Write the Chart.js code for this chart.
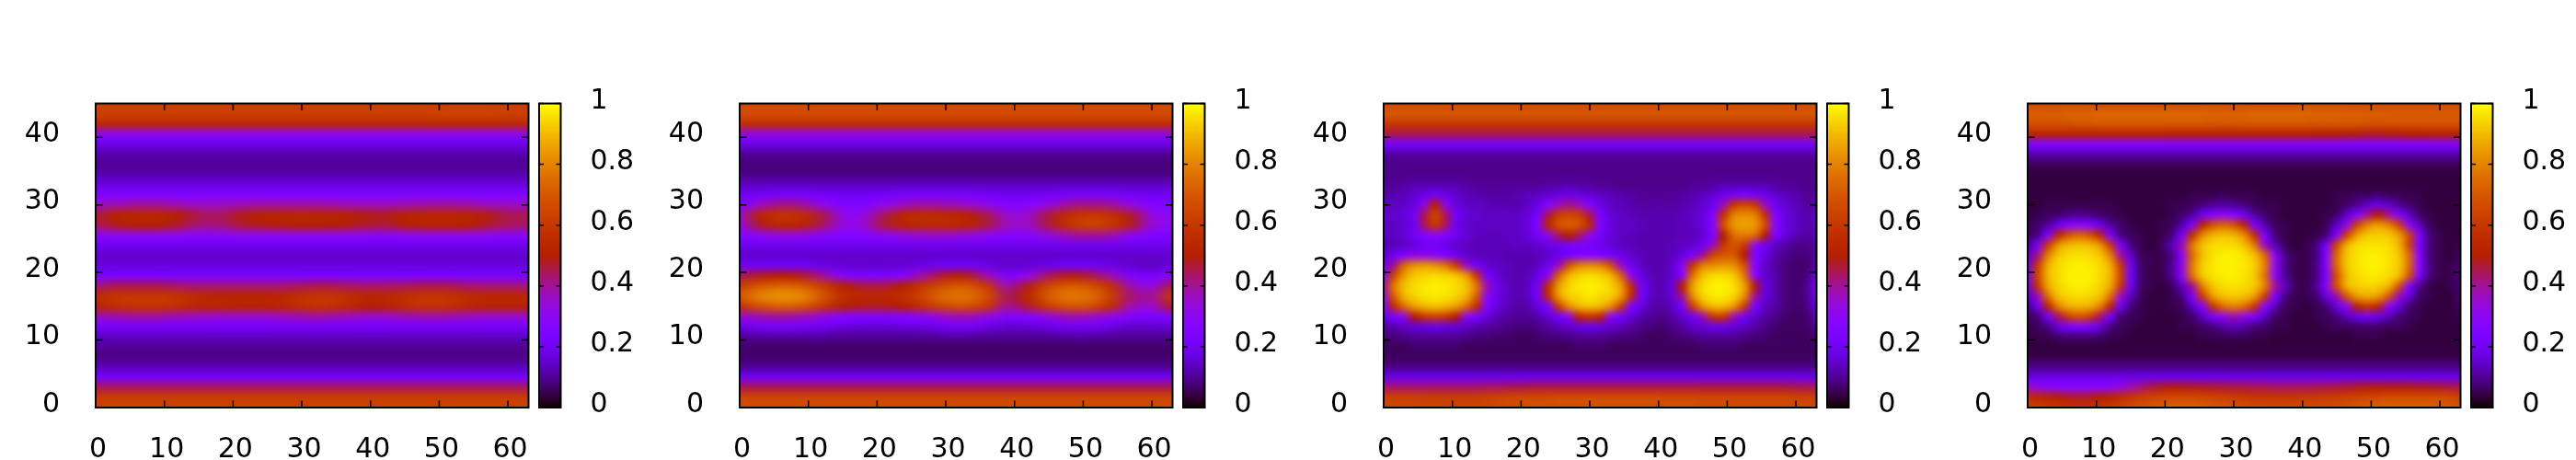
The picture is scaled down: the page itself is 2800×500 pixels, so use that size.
<!DOCTYPE html>
<html>
<head>
<meta charset="utf-8">
<title>Heat maps</title>
<script src="https://cdn.jsdelivr.net/npm/chart.js@4"></script>
<style>
  html, body { margin: 0; padding: 0; background: #fff; }
  #wrap { position: relative; width: 2800px; height: 500px; }
  canvas { position: absolute; top: 0; }
</style>
</head>
<body>
<div id="wrap"></div>
<script>
const xTicks = [0, 10, 20, 30, 40, 50, 60];
const yTicks = [0, 10, 20, 30, 40];
const cbTicks = [0, 0.2, 0.4, 0.6, 0.8, 1];

// sampled positions of the cells
const xCells = [0, 3, 6, 9, 12, 15, 18, 21, 24, 27, 30, 33, 36, 39, 42, 45, 48, 51, 54, 57, 60, 63];
const xCellsFine = [0, 1.5, 3, 4.5, 6, 7.5, 9, 10.5, 12, 13.5, 15, 16.5, 18, 19.5, 21, 22.5, 24, 25.5, 27, 28.5, 30, 31.5, 33, 34.5, 36, 37.5, 39, 40.5, 42, 43.5, 45, 46.5, 48, 49.5, 51, 52.5, 54, 55.5, 57, 58.5, 60, 61.5, 63];
const yCells = [0, 1.5, 3, 4.5, 6, 7.5, 9, 10.5, 12, 13.5, 15, 16.5, 18, 19.5, 21, 22.5, 24, 25.5, 27, 28.5, 30, 31.5, 33, 34.5, 36, 37.5, 39, 40.5, 42, 43.5, 45];

// values, in percent. one row per yCells entry, bottom row first
const panel1 = [
[63,63,63,63,63,63,63,63,63,63,63,63,63,63,63,63,63,63,63,63,63,63],
[62,62,62,62,62,62,62,62,62,62,62,62,62,62,62,62,62,62,62,62,62,62],
[44,44,44,44,44,44,44,44,44,44,44,44,44,44,44,44,44,44,44,44,44,44],
[21,21,21,21,21,21,21,21,21,21,21,21,21,21,21,21,21,21,21,21,21,21],
[13,13,13,13,13,13,13,13,13,13,13,13,13,13,13,13,13,13,13,13,13,13],
[9,9,9,9,9,9,9,9,9,9,9,9,9,9,9,9,9,9,9,9,9,9],
[10,10,10,10,10,10,10,10,10,10,10,10,10,10,10,10,10,10,10,10,10,10],
[14,14,14,14,14,14,14,14,14,14,14,14,14,14,14,14,14,14,14,14,14,14],
[22,22,22,22,22,22,22,22,22,22,22,22,22,22,22,22,22,22,22,22,22,22],
[36,38,39,39,37,36,35,35,35,36,38,39,37,35,35,37,38,38,36,35,35,35],
[52,56,58,58,56,52,52,51,51,52,56,58,55,50,50,55,58,57,53,51,51,51],
[55,59,60,60,58,54,52,52,52,53,57,59,57,53,53,56,59,58,55,53,53,53],
[42,45,45,45,43,42,42,42,42,42,44,45,44,43,43,44,45,45,43,42,42,42],
[23,23,23,23,23,23,23,23,23,23,23,23,23,23,23,23,23,23,23,23,23,23],
[17,17,17,17,17,17,17,17,17,17,17,17,17,17,17,17,17,17,17,17,17,17],
[15,15,15,15,15,15,15,15,15,15,15,15,15,15,15,15,15,15,15,15,15,15],
[19,19,19,19,19,19,19,19,19,19,19,19,19,19,19,19,19,19,19,19,19,19],
[29,30,30,30,30,29,29,30,30,30,30,30,30,30,29,30,31,31,31,30,29,29],
[44,48,50,50,47,42,42,46,48,49,50,50,49,47,46,49,51,51,50,47,44,43],
[46,51,53,53,50,45,44,48,51,52,53,52,51,49,48,51,53,53,52,49,45,45],
[36,38,40,40,38,36,36,38,39,39,39,39,38,37,37,38,39,40,39,37,36,36],
[25,25,25,25,25,25,25,25,25,25,25,25,25,25,25,25,25,25,25,25,25,25],
[17,17,17,17,17,17,17,17,17,17,17,17,17,17,17,17,17,17,17,17,17,17],
[12,12,12,12,12,12,12,12,12,12,12,12,12,12,12,12,12,12,12,12,12,12],
[10,10,10,10,10,10,10,10,10,10,10,10,10,10,10,10,10,10,10,10,10,10],
[12,12,12,12,12,12,12,12,12,12,12,12,12,12,12,12,12,12,12,12,12,12],
[18,18,18,18,18,18,18,18,18,18,18,18,18,18,18,18,18,18,18,18,18,18],
[31,31,31,31,31,31,31,31,31,31,31,31,31,31,31,31,31,31,31,31,31,31],
[54,54,54,54,54,54,54,54,54,54,54,54,54,54,54,54,54,54,54,54,54,54],
[63,63,63,63,63,63,63,63,63,63,63,63,63,63,63,63,63,64,64,64,63,63],
[62,62,62,62,62,62,62,62,62,62,62,62,62,62,62,62,62,62,62,62,62,62]
];

const panel2 = [
[66,66,66,66,66,66,66,66,66,66,66,66,66,66,66,66,66,66,66,66,66,66],
[65,65,65,65,65,65,65,65,65,65,65,65,65,65,65,65,65,65,65,65,65,65],
[45,45,45,45,45,45,45,45,45,45,45,45,45,45,45,45,45,45,45,45,45,45],
[20,20,20,20,20,20,20,20,20,20,20,20,20,20,20,20,20,20,20,20,20,20],
[10,10,10,10,10,10,10,10,10,10,10,10,10,10,10,10,10,10,10,10,10,10],
[7,7,7,7,7,7,7,7,7,7,7,7,7,7,7,7,7,7,7,7,7,7],
[7,7,7,7,7,7,7,7,7,7,7,7,7,7,7,7,7,7,7,7,7,7],
[10,11,11,11,11,10,10,10,10,10,11,11,10,10,10,10,11,11,10,10,10,10],
[18,21,22,21,19,17,16,16,17,18,20,21,18,15,16,18,20,20,18,15,15,16],
[34,38,40,38,33,27,26,26,27,30,36,38,33,26,27,33,38,37,32,26,24,26],
[58,68,72,70,60,50,48,48,50,58,66,68,60,40,47,62,69,67,56,38,35,48],
[70,80,83,81,70,56,53,53,56,66,75,76,67,45,54,71,78,75,63,43,40,60],
[62,70,73,71,62,50,46,46,50,60,68,70,60,38,48,65,71,68,57,38,32,46],
[44,48,50,48,40,28,24,24,28,40,48,49,38,24,32,44,49,46,38,24,22,27],
[19,20,20,20,18,16,15,15,16,18,20,20,18,15,16,18,20,20,18,15,14,17],
[15,15,15,15,15,15,15,15,15,15,15,15,15,15,15,15,15,15,15,15,15,15],
[19,19,19,19,19,19,19,19,19,19,19,19,19,19,19,19,19,19,19,19,19,19],
[26,30,33,32,29,25,26,30,33,35,35,33,30,27,28,33,38,40,38,30,24,24],
[33,47,53,52,44,33,34,46,52,54,54,52,46,37,36,46,58,64,60,48,34,30],
[36,52,58,56,46,32,32,44,53,55,54,51,45,35,35,46,56,60,57,47,33,30],
[26,36,42,40,32,25,25,31,37,39,38,36,32,26,27,33,40,42,40,33,26,24],
[20,21,22,22,21,20,20,21,22,22,22,22,21,20,20,21,22,23,22,21,20,20],
[14,14,14,14,14,14,14,14,14,14,14,14,14,14,14,14,14,14,14,14,14,14],
[9,9,9,9,9,9,9,9,9,9,9,9,9,9,9,9,9,9,9,9,9,9],
[8,8,8,8,8,8,8,8,8,8,8,8,8,8,8,8,8,8,8,8,8,8],
[10,10,10,10,10,10,10,10,10,10,10,10,10,10,10,10,10,10,10,10,10,10],
[18,18,18,18,18,18,18,18,18,18,18,18,18,18,18,18,18,18,18,18,18,18],
[33,33,33,33,33,33,33,33,33,33,33,33,33,33,33,33,33,33,33,33,33,33],
[56,56,56,56,56,56,56,56,56,56,56,56,56,56,56,56,56,56,56,56,56,56],
[67,67,67,67,67,67,67,67,67,67,67,67,67,67,67,67,67,67,67,67,67,67],
[65,65,65,65,65,65,65,65,65,65,65,65,65,65,65,65,65,65,65,65,65,65]
];

// panels 3 and 4 have sharper blobs, so one row per yCells entry on xCellsFine
const panel3 = [
[64,64,64,64,63,63,63,63,63,63,64,65,66,66,67,67,67,68,68,68,68,68,68,68,68,68,68,67,67,67,67,66,66,66,66,66,66,66,66,66,65,65,64],
[63,63,63,63,62,62,62,62,62,62,63,64,65,65,66,66,66,67,67,67,67,67,67,67,67,67,67,66,66,66,66,65,65,65,65,65,65,65,65,65,64,64,63],
[43,43,43,43,43,43,43,43,43,43,44,44,45,45,46,46,46,46,46,46,46,46,46,46,46,46,46,46,46,46,46,46,46,46,46,46,46,46,46,46,45,45,44],
[18,18,18,18,18,18,18,18,18,18,18,18,18,18,18,18,18,18,18,18,18,18,18,18,18,18,18,18,18,18,18,18,18,18,18,18,18,18,18,18,18,18,18],
[9,9,9,9,9,9,9,9,9,9,9,9,9,9,9,9,9,9,9,9,9,9,9,9,9,9,9,9,9,9,9,9,9,9,9,9,9,9,9,9,9,9,9],
[6,6,6,6,6,6,6,6,6,6,6,6,6,6,6,6,6,6,6,6,6,6,6,6,6,6,6,6,6,6,6,6,6,6,6,6,6,6,6,6,6,6,6],
[6,6,6,7,7,7,7,7,6,6,6,6,6,6,6,6,6,6,6,7,7,7,6,6,6,6,6,6,6,6,6,7,7,7,7,6,6,6,6,6,6,6,6],
[8,8,9,10,10,10,10,10,9,8,8,7,7,6,6,7,8,8,9,10,10,10,9,8,8,7,6,6,7,8,9,10,10,10,10,9,8,7,6,6,6,6,7],
[11,12,14,16,17,18,17,16,14,12,11,10,9,8,8,9,11,13,15,17,18,17,15,13,11,9,8,7,9,11,14,16,18,18,16,14,11,9,7,6,6,7,9],
[17,24,32,50,60,63,60,50,32,24,17,13,11,10,10,12,16,21,32,54,60,54,32,21,16,12,10,9,11,15,21,38,60,60,38,21,15,11,9,7,6,7,12],
[25,56,75,85,89,91,89,85,75,56,25,17,13,11,12,17,25,62,82,89,91,89,82,62,25,17,12,11,14,23,62,83,90,90,83,62,23,14,11,8,7,8,17],
[32,72,89,94,96,97,96,94,89,72,32,18,14,12,14,21,56,85,93,95,97,95,93,85,56,21,14,12,16,41,82,94,97,97,94,82,41,16,12,8,7,9,20],
[38,78,91,95,97,98,97,95,91,78,38,19,14,12,14,20,56,85,94,97,98,97,94,85,56,20,14,12,17,50,86,95,98,98,95,86,50,17,12,8,7,9,22],
[27,65,85,92,94,95,94,92,85,60,22,16,13,12,13,18,32,74,89,94,95,94,89,74,32,18,13,12,15,30,77,91,95,95,92,77,30,15,12,8,7,8,16],
[19,41,75,83,85,83,77,62,37,21,16,14,13,12,12,14,20,37,69,80,82,80,69,37,20,14,12,12,15,29,60,80,82,84,82,68,29,15,11,8,7,7,11],
[15,20,26,32,32,30,26,20,15,13,13,13,12,12,12,13,15,18,22,26,27,26,22,18,15,13,12,12,13,17,24,41,65,70,70,50,26,17,12,9,8,8,10],
[12,13,14,17,20,21,18,15,14,13,13,13,13,14,14,15,17,19,22,24,22,19,16,14,13,12,12,12,13,14,15,20,37,60,68,60,32,20,14,11,9,9,10],
[13,14,16,20,26,28,26,20,16,14,13,13,14,14,16,21,32,44,50,44,32,21,16,14,13,12,12,12,12,13,13,16,24,50,75,78,75,50,24,16,13,11,12],
[14,14,15,20,44,60,44,20,15,14,14,14,14,14,17,26,54,68,71,68,54,26,17,14,14,13,12,12,12,13,14,17,29,68,84,86,84,68,29,17,14,12,13],
[14,15,16,21,45,65,45,21,16,15,14,14,14,14,16,23,45,62,65,62,45,23,16,14,13,12,12,12,12,13,14,17,26,58,80,82,80,58,26,17,14,12,13],
[13,14,14,17,32,50,32,17,14,14,13,12,12,12,14,18,27,37,41,37,27,18,14,13,12,11,11,11,11,12,13,15,20,37,60,65,60,37,20,15,13,11,11],
[11,12,13,15,18,20,18,15,13,12,11,11,11,12,13,14,15,17,18,17,15,14,13,12,11,10,10,10,10,11,12,13,15,18,21,23,21,18,15,13,12,10,10],
[10,10,11,12,12,12,12,12,11,10,10,10,10,10,10,10,11,11,12,11,11,10,10,9,9,9,9,9,9,9,10,10,11,12,12,12,12,12,11,10,10,9,9],
[9,9,9,9,9,9,9,9,9,9,9,9,9,9,9,9,9,9,9,9,9,9,9,9,9,9,9,9,9,9,9,9,9,9,9,9,9,9,9,9,9,9,9],
[9,9,9,9,9,9,9,9,9,9,9,9,9,9,9,9,9,9,9,9,9,9,9,9,9,9,9,9,9,9,9,9,9,9,9,9,9,9,9,9,9,9,9],
[11,11,11,11,11,11,11,11,11,11,11,11,11,11,11,11,11,11,11,11,11,11,11,11,11,11,11,11,11,11,11,11,11,11,11,11,11,11,11,11,11,11,11],
[22,22,22,22,22,22,22,22,22,22,22,22,22,22,22,22,22,22,22,22,22,22,22,22,22,22,22,22,22,22,22,22,22,22,22,22,22,22,22,22,22,22,22],
[45,45,45,45,45,45,45,45,45,45,45,45,45,45,45,45,45,45,45,45,45,45,45,45,45,45,45,45,45,45,45,45,45,45,45,45,45,45,45,45,45,45,45],
[60,60,60,60,60,60,60,60,60,60,60,60,60,60,60,60,60,60,60,60,60,60,60,60,60,60,60,60,60,60,60,60,60,60,60,60,60,60,60,60,60,60,60],
[70,70,70,70,70,70,70,70,70,70,70,70,70,70,70,70,70,70,70,70,70,70,70,70,70,70,70,70,70,70,70,70,70,70,70,70,70,70,70,70,70,70,70],
[66,66,66,66,66,66,66,66,66,66,66,66,66,66,66,66,66,66,66,66,66,66,66,66,66,66,66,66,66,66,66,66,66,66,66,66,66,66,66,66,66,66,66]
];

const panel4 = [
[62,61,60,59,58,58,58,59,60,63,66,68,70,71,72,72,72,71,70,69,68,67,66,66,65,65,66,66,66,66,67,68,70,71,72,72,72,72,72,72,71,70,68],
[56,54,52,50,48,47,48,50,52,56,60,62,64,65,66,66,66,65,64,63,62,61,60,60,60,60,60,61,61,62,62,63,64,65,66,67,67,67,67,67,67,66,64],
[36,33,30,29,28,28,28,29,30,34,38,42,46,48,49,49,48,48,47,47,46,46,45,45,44,44,44,44,45,45,46,47,48,49,49,49,49,49,48,48,47,46,45],
[18,18,18,18,18,18,18,18,18,18,18,18,18,18,18,18,18,18,18,18,18,18,18,18,18,18,18,18,18,18,18,18,18,18,18,18,18,18,18,18,18,18,18],
[9,9,9,9,9,9,9,9,9,9,9,9,9,9,9,9,9,9,9,9,9,9,9,9,9,9,9,9,9,9,9,9,9,9,9,9,9,9,9,9,9,9,9],
[5,5,5,5,5,5,5,5,5,5,5,5,5,5,5,5,5,5,5,5,5,5,5,5,5,5,5,5,5,5,5,5,5,5,5,5,5,5,5,5,5,5,5],
[4,4,4,4,4,4,4,4,4,4,4,4,4,4,4,4,4,4,4,4,4,4,4,4,4,4,4,4,4,4,4,4,4,4,4,4,4,4,4,4,4,4,4],
[4,5,5,7,8,8,8,7,5,5,4,4,4,4,4,4,4,5,5,6,6,6,5,5,4,4,4,4,4,4,4,4,5,5,5,4,4,4,4,4,4,4,4],
[5,6,9,17,23,25,23,17,9,6,5,4,4,4,4,5,5,7,8,11,13,11,8,7,5,5,4,4,4,5,6,6,7,7,7,6,6,5,4,4,4,4,4],
[6,8,22,44,63,68,63,44,22,8,6,5,4,4,4,5,7,14,24,32,38,32,24,14,7,5,4,4,5,6,8,13,18,21,18,13,8,6,5,4,4,4,5],
[8,21,54,80,88,89,88,80,54,21,8,5,4,4,5,6,14,28,60,75,79,75,60,28,14,6,5,4,5,8,17,31,54,60,54,31,17,8,5,4,4,4,6],
[14,37,77,91,94,95,94,91,77,37,14,6,4,4,5,9,25,62,85,91,92,91,85,62,25,9,5,5,7,17,38,71,85,87,85,71,38,17,7,5,4,4,7],
[19,60,87,94,97,98,97,94,87,60,19,7,5,4,6,14,41,80,92,95,96,95,92,80,41,14,6,5,10,28,69,89,93,94,93,89,69,28,10,5,4,5,7],
[21,65,89,95,98,98,98,95,89,65,21,7,5,5,10,30,77,92,96,98,98,96,92,77,30,10,5,5,8,24,69,90,95,97,97,95,90,69,24,8,5,5,8],
[19,62,88,95,97,98,97,95,88,62,19,7,5,5,10,32,79,93,97,98,98,97,93,79,32,10,5,5,9,28,75,92,96,98,98,96,92,75,28,9,5,5,7],
[15,41,80,92,95,96,95,92,80,41,15,6,5,5,9,30,75,91,96,98,98,96,91,75,30,9,5,5,8,27,75,92,96,98,98,96,92,75,27,8,5,4,6],
[9,24,62,84,90,91,90,84,62,24,9,5,4,6,13,37,78,91,95,95,95,91,78,37,13,6,4,5,8,23,66,89,95,96,96,95,89,66,23,8,5,4,5],
[6,9,25,54,69,74,69,54,25,9,6,5,4,5,8,23,58,82,89,91,89,82,58,23,8,5,4,4,5,8,25,65,86,92,93,92,86,65,25,8,5,4,4],
[5,7,11,19,27,29,27,19,11,7,5,4,4,5,6,12,25,54,69,74,69,54,25,12,6,5,4,4,4,6,14,32,66,80,85,80,66,32,14,6,4,4,4],
[4,5,6,7,9,10,9,7,6,5,4,4,4,4,5,7,11,20,27,31,27,20,11,7,5,4,4,4,4,5,7,15,27,41,50,41,27,15,7,5,4,4,4],
[4,4,5,5,5,5,5,5,5,4,4,4,4,4,5,5,6,8,10,11,10,8,6,5,5,4,4,4,4,4,5,7,10,15,17,15,10,7,5,4,4,4,4],
[4,4,4,4,4,4,4,4,4,4,4,4,4,4,4,4,5,5,5,6,5,5,5,4,4,4,4,4,4,4,5,5,6,6,7,6,6,5,5,4,4,4,4],
[4,4,4,4,4,4,4,4,4,4,4,4,4,4,4,4,4,4,4,4,4,4,4,4,4,4,4,4,4,4,4,4,4,4,4,4,4,4,4,4,4,4,4],
[4,4,4,4,4,4,4,4,4,4,4,4,4,4,4,4,4,4,4,4,4,4,4,4,4,4,4,4,4,4,4,4,4,4,4,4,4,4,4,4,4,4,4],
[6,6,6,6,6,6,6,6,6,6,6,6,6,6,6,6,6,6,6,6,6,6,6,6,6,6,6,6,6,6,6,6,6,6,6,6,6,6,6,6,6,6,6],
[12,12,12,12,12,12,12,12,12,12,12,12,12,12,12,12,12,12,12,12,12,12,12,12,12,12,12,12,12,12,12,12,12,12,12,12,12,12,12,12,12,12,12],
[26,26,26,26,26,26,26,26,26,26,26,26,26,26,26,26,26,26,26,26,26,26,26,26,26,26,26,26,26,26,26,26,26,26,26,26,26,26,26,26,26,26,26],
[52,52,52,52,52,52,52,52,52,52,52,52,52,52,51,51,51,51,51,51,51,51,51,51,51,51,51,51,50,50,50,49,49,48,48,49,49,50,50,51,51,51,51],
[68,68,68,68,68,69,69,70,70,70,70,70,70,70,70,70,70,70,69,69,69,69,70,70,70,70,70,70,69,69,69,69,69,68,68,68,68,68,68,68,68,68,68],
[72,72,72,72,73,73,73,74,74,74,74,74,74,74,74,74,74,74,73,73,73,73,74,74,74,74,74,74,73,73,73,72,72,72,72,71,71,71,71,71,71,71,71],
[66,66,66,66,66,66,66,66,66,66,66,66,66,66,66,66,66,66,66,66,66,66,66,66,66,66,66,66,66,66,66,66,66,66,66,66,66,66,66,66,66,66,66]
];

const panels = [panel1, panel2, panel3, panel4];
const panelXCells = [xCells, xCells, xCellsFine, xCellsFine];

// gnuplot default pm3d palette (rgbformulae 7,5,15)
function paletteRgb(v) {
    const r = Math.sqrt(v);
    const g = v * v * v;
    const b = Math.max(0, Math.sin(2 * Math.PI * v));
    return [Math.round(r * 255), Math.round(g * 255), Math.round(b * 255)];
}

const heatPlugin = {
    id: 'heat',
    beforeDraw(chart) {
        const { ctx, chartArea, scales } = chart;
        const cells = chart.data.datasets[0].data;
        const xs = chart.options.plugins.heat.xs;
        const nx = xs.length;
        const ny = yCells.length;
        // one pixel per cell, then stretched onto the scale range with smoothing
        const off = document.createElement('canvas');
        off.width = nx;
        off.height = ny;
        const offCtx = off.getContext('2d');
        const img = offCtx.createImageData(nx, ny);
        cells.forEach(c => {
            const col = xs.indexOf(c.x);
            const row = ny - 1 - yCells.indexOf(c.y);
            const [r, g, b] = paletteRgb(c.v);
            const i = (row * nx + col) * 4;
            img.data[i] = r;
            img.data[i + 1] = g;
            img.data[i + 2] = b;
            img.data[i + 3] = 255;
        });
        offCtx.putImageData(img, 0, 0);

        const halfX = (xs[1] - xs[0]) / 2;
        const x0 = scales.x.getPixelForValue(xs[0] - halfX);
        const x1 = scales.x.getPixelForValue(xs[nx - 1] + halfX);
        const y0 = scales.y.getPixelForValue(yCells[ny - 1] + 0.75);
        const y1 = scales.y.getPixelForValue(yCells[0] - 0.75);
        ctx.save();
        ctx.beginPath();
        ctx.rect(chartArea.left, chartArea.top, chartArea.right - chartArea.left, chartArea.bottom - chartArea.top);
        ctx.clip();
        ctx.imageSmoothingEnabled = true;
        ctx.imageSmoothingQuality = 'high';
        ctx.drawImage(off, x0, y0, x1 - x0, y1 - y0);
        ctx.restore();

        // colour bar
        const cb = scales.cb;
        const barLeft = chartArea.right + 11.5;
        const barWidth = 23.5;
        for (let py = Math.floor(cb.top); py < cb.bottom; py++) {
            const v = Math.min(1, Math.max(0, cb.getValueForPixel(py + 0.5)));
            const [r, g, b] = paletteRgb(v);
            ctx.fillStyle = `rgb(${r},${g},${b})`;
            ctx.fillRect(barLeft, py, barWidth, 1);
        }
    },
    afterDraw(chart) {
        const { ctx, chartArea, scales } = chart;
        const { left, right, top, bottom } = chartArea;
        const cb = scales.cb;
        const barLeft = right + 11.5;
        const barRight = barLeft + 23.5;
        ctx.save();
        ctx.strokeStyle = '#000';
        ctx.lineWidth = 1.5;
        ctx.beginPath();
        xTicks.forEach(t => {
            const px = scales.x.getPixelForValue(t);
            ctx.moveTo(px, bottom);
            ctx.lineTo(px, bottom - 7.5);
            ctx.moveTo(px, top);
            ctx.lineTo(px, top + 7.5);
        });
        yTicks.forEach(t => {
            const py = scales.y.getPixelForValue(t);
            ctx.moveTo(left, py);
            ctx.lineTo(left + 7.5, py);
            ctx.moveTo(right, py);
            ctx.lineTo(right - 7.5, py);
        });
        cbTicks.forEach(t => {
            const py = cb.getPixelForValue(t);
            ctx.moveTo(barLeft, py);
            ctx.lineTo(barLeft + 5, py);
            ctx.moveTo(barRight, py);
            ctx.lineTo(barRight - 5, py);
        });
        ctx.stroke();
        ctx.lineWidth = 2;
        ctx.strokeRect(left, top, right - left, bottom - top);
        ctx.strokeRect(barLeft, top, barRight - barLeft, bottom - top);
        ctx.restore();
    }
};

const tickFont = { family: '"DejaVu Sans"', size: 30 };

function initializePanel(canvas, rows, xs) {
    const cells = [];
    rows.forEach((row, r) => {
        row.forEach((val, c) => {
            cells.push({ x: xs[c], y: yCells[r], v: val / 100 });
        });
    });
    return new Chart(canvas.getContext('2d'), {
        type: 'scatter',
        data: {
            datasets: [{
                data: cells,
                pointRadius: 0,
                pointHoverRadius: 0
            }]
        },
        options: {
            responsive: false,
            animation: false,
            events: [],
            layout: {
                padding: { top: 112.5, left: 0, right: 0, bottom: 0 }
            },
            plugins: {
                legend: { display: false },
                tooltip: { enabled: false },
                heat: { xs }
            },
            scales: {
                x: {
                    type: 'linear',
                    position: 'bottom',
                    min: 0,
                    max: 63,
                    afterBuildTicks: s => { s.ticks = xTicks.map(value => ({ value })); },
                    afterFit: s => { s.height = 57; },
                    grid: { display: false },
                    border: { display: false },
                    ticks: {
                        color: '#000',
                        font: tickFont,
                        padding: 20,
                        labelOffset: 2.5,
                        maxRotation: 0,
                        autoSkip: false,
                        callback: v => String(v)
                    }
                },
                y: {
                    type: 'linear',
                    position: 'left',
                    min: 0,
                    max: 45,
                    afterBuildTicks: s => { s.ticks = yTicks.map(value => ({ value })); },
                    afterFit: s => { s.width = 104; },
                    grid: { display: false },
                    border: { display: false },
                    ticks: {
                        color: '#000',
                        font: tickFont,
                        padding: 31,
                        labelOffset: -3,
                        autoSkip: false,
                        callback: v => String(v)
                    }
                },
                cb: {
                    type: 'linear',
                    position: 'right',
                    min: 0,
                    max: 1,
                    afterBuildTicks: s => { s.ticks = cbTicks.map(value => ({ value })); },
                    afterFit: s => { s.width = 125.5; },
                    // a long see-through tick pushes the labels past the colour bar,
                    // tick padding would also shrink the plot height
                    grid: { display: true, drawOnChartArea: false, tickLength: 62, tickColor: 'rgba(0,0,0,0)' },
                    border: { display: false },
                    ticks: {
                        color: '#000',
                        font: tickFont,
                        padding: 5,
                        labelOffset: -2.5,
                        autoSkip: false,
                        callback: v => String(v)
                    }
                }
            }
        },
        plugins: [heatPlugin]
    });
}

const wrap = document.getElementById('wrap');
panels.forEach((rows, i) => {
    const canvas = document.createElement('canvas');
    canvas.width = 700;
    canvas.height = 500;
    canvas.style.left = (i * 700) + 'px';
    wrap.appendChild(canvas);
    initializePanel(canvas, rows, panelXCells[i]);
});
</script>
</body>
</html>
